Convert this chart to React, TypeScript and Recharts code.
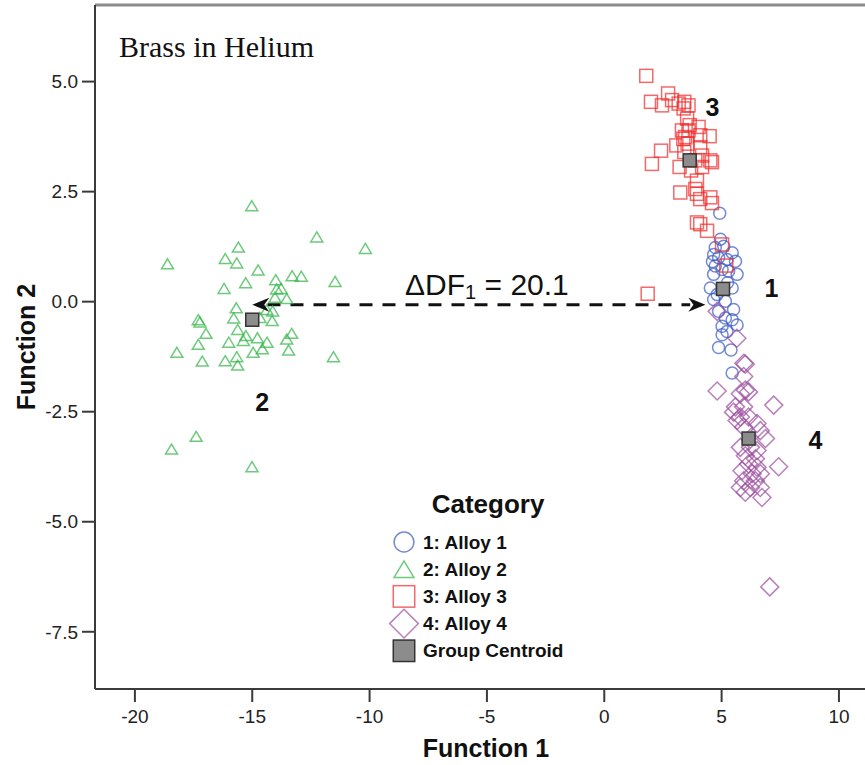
import { ScatterChart, Scatter, XAxis, YAxis, ReferenceLine, ReferenceDot, Legend } from 'recharts';

const FONT = '"Liberation Sans", Arial, sans-serif';

const X_TICKS = [-20, -15, -10, -5, 0, 5, 10];
const Y_TICKS = [-7.5, -5, -2.5, 0, 2.5, 5];
const X_DOMAIN = [-21.7, 11.11];
const Y_DOMAIN = [-8.8, 6.74];

const toPoints = (pairs: number[][]) => pairs.map(([x, y]) => ({ x, y }));

// discriminant scores
const ALLOY_1 = toPoints([
  [4.92, 2.01], [4.73, 1.23], [5.09, 1.26], [5.45, 1.11], [4.66, 1.07], [4.87, 1.0],
  [5.23, 0.96], [5.59, 0.92], [4.73, 0.81], [5.02, 0.73], [5.3, 0.69], [5.66, 0.62],
  [4.66, 0.62], [4.52, 0.31], [5.45, 0.31], [4.81, 0.16], [4.66, 0.05], [5.16, 0.01],
  [5.51, -0.18], [4.87, -0.22], [5.16, -0.37], [5.45, -0.41], [5.02, -0.56], [5.66, -0.53],
  [5.23, -0.68], [5.02, -0.75], [4.87, -1.04], [5.4, -1.1], [5.45, -1.62], [4.95, 1.42],
  [5.25, 0.43], [4.61, 0.91],
]);

const ALLOY_2 = toPoints([
  [-15.02, 2.18], [-12.25, 1.47], [-10.18, 1.21], [-18.61, 0.86], [-15.59, 1.24], [-16.15, 0.98],
  [-15.66, 0.88], [-14.75, 0.72], [-14.0, 0.5], [-13.3, 0.59], [-12.91, 0.58], [-11.47, 0.46],
  [-15.28, 0.43], [-16.2, 0.3], [-13.96, 0.29], [-13.77, 0.3], [-14.03, 0.1], [-13.53, 0.07],
  [-15.68, -0.14], [-14.13, -0.21], [-14.38, -0.18], [-17.3, -0.41], [-17.23, -0.46], [-15.79, -0.37],
  [-14.15, -0.43], [-14.67, -0.36], [-16.97, -0.72], [-15.62, -0.63], [-15.27, -0.77], [-14.78, -0.82],
  [-13.32, -0.72], [-13.53, -0.85], [-17.3, -0.97], [-16.0, -0.92], [-15.38, -0.88], [-14.37, -0.92],
  [-18.21, -1.15], [-14.96, -1.15], [-14.57, -1.07], [-13.45, -1.1], [-11.54, -1.25], [-17.13, -1.35],
  [-16.15, -1.34], [-15.66, -1.25], [-15.62, -1.44], [-17.39, -3.06], [-18.44, -3.35], [-15.01, -3.75],
]);

const ALLOY_3 = toPoints([
  [1.79, 5.13], [2.72, 4.73], [1.99, 4.54], [2.46, 4.46], [2.89, 4.58], [3.17, 4.5],
  [3.41, 4.54], [3.59, 4.46], [3.38, 4.39], [3.53, 4.16], [3.64, 4.01], [4.02, 3.97],
  [3.31, 3.89], [3.59, 3.89], [3.45, 3.74], [4.09, 3.78], [4.49, 3.76], [3.07, 3.55],
  [3.55, 3.59], [4.09, 3.51], [2.42, 3.43], [3.41, 3.4], [4.17, 3.32], [2.03, 3.13],
  [3.21, 3.06], [3.88, 3.21], [4.52, 3.21], [4.59, 3.17], [4.17, 3.06], [3.7, 2.98],
  [3.95, 2.75], [3.24, 2.48], [3.88, 2.56], [3.95, 2.45], [4.09, 2.33], [4.52, 2.37],
  [4.59, 2.24], [4.09, 1.76], [3.95, 1.8], [4.38, 1.61], [5.02, 1.3], [5.2, 0.82],
  [1.85, 0.18], [3.37, 3.7],
]);

const ALLOY_4 = toPoints([
  [6.01, -1.42], [4.81, -2.03], [6.01, -2.01], [5.8, -2.09], [6.15, -2.05], [7.22, -2.35],
  [5.59, -2.39], [5.94, -2.39], [5.51, -2.51], [5.8, -2.62], [6.15, -2.62], [5.66, -2.7],
  [6.51, -2.77], [5.94, -2.85], [6.65, -2.93], [6.87, -3.11], [5.8, -3.31], [6.23, -3.31],
  [6.51, -3.38], [6.01, -3.5], [6.44, -3.57], [7.43, -3.75], [6.15, -3.69], [6.51, -3.76],
  [5.87, -3.84], [6.3, -3.91], [6.65, -3.91], [5.94, -4.07], [6.44, -4.07], [5.8, -4.22],
  [6.23, -4.22], [6.65, -4.22], [6.01, -4.33], [6.72, -4.45], [4.81, -0.22], [5.65, -0.83],
  [5.95, -1.4], [5.94, -1.7], [7.05, -6.48],
]);

const CENTROIDS = toPoints([[5.06, 0.29], [-15.0, -0.41], [3.64, 3.21], [6.15, -3.11]]);

const GROUP_LABELS = [
  { text: '1', x: 7.12, y: 0.3 },
  { text: '2', x: -14.58, y: -2.29 },
  { text: '3', x: 4.61, y: 4.43 },
  { text: '4', x: 9.0, y: -3.15 },
];

// ΔDF1 arrow between centroids 2 and 1
const ARROW_Y = -0.07;
const ARROW_HEADS = [
  { x: -15.0, y: ARROW_Y, dir: -1 },
  { x: 4.31, y: ARROW_Y, dir: 1 },
];
const ARROW_LINE = [-14.35, 3.66];
const DF_LABEL = { x: -5.0, y: 0.39 };

type Kind = 'circle' | 'triangle' | 'square' | 'diamond' | 'centroid';

const SERIES: { name: string; data: { x: number; y: number }[]; color: string; kind: Kind }[] = [
  { name: '1: Alloy 1', data: ALLOY_1, color: '#3B58C2', kind: 'circle' },
  { name: '2: Alloy 2', data: ALLOY_2, color: '#2FB444', kind: 'triangle' },
  { name: '3: Alloy 3', data: ALLOY_3, color: '#EE2A2A', kind: 'square' },
  { name: '4: Alloy 4', data: ALLOY_4, color: '#9A4B9C', kind: 'diamond' },
];

function Marker({ cx, cy, kind, color, s = 1 }: { cx: number; cy: number; kind: Kind; color: string; s?: number }) {
  const common = { fill: 'none', stroke: color, strokeWidth: 1.5, strokeOpacity: 0.7 };
  if (kind === 'circle') return <circle cx={cx} cy={cy} r={6 * s} {...common} />;
  if (kind === 'triangle') {
    const w = 6 * s, h = 5 * s;
    return <path d={`M${cx},${cy - h} L${cx + w},${cy + h} L${cx - w},${cy + h} Z`} {...common} />;
  }
  if (kind === 'square') {
    const h = 6.5 * s;
    return <rect x={cx - h} y={cy - h} width={2 * h} height={2 * h} {...common} />;
  }
  if (kind === 'diamond') {
    const h = 9 * s;
    return <path d={`M${cx},${cy - h} L${cx + h},${cy} L${cx},${cy + h} L${cx - h},${cy} Z`} {...common} />;
  }
  const h = 6.5 * s;
  return <rect x={cx - h} y={cy - h} width={2 * h} height={2 * h} fill="#8c8c8c" stroke="#333" strokeWidth={1.5} />;
}

function ArrowHead({ cx, cy, payload }: any) {
  const d = payload.dir;
  return (
    <path
      d={`M${cx},${cy} L${cx - d * 17},${cy - 7} L${cx - d * 12},${cy} L${cx - d * 17},${cy + 7} Z`}
      fill="#111"
    />
  );
}

const renderLegend = () => {
  const rows = [...SERIES.map((s) => ({ name: s.name, color: s.color, kind: s.kind })), { name: 'Group Centroid', color: '#333', kind: 'centroid' as Kind }];
  return (
    <svg width={240} height={190} style={{ overflow: 'visible' }}>
      <text x={108} y={24} textAnchor="middle" dominantBaseline="central" fontSize={26} fontWeight="bold" fontFamily={FONT} fill="#111">
        Category
      </text>
      {rows.map((r, i) => (
        <g key={r.name}>
          <Marker cx={24} cy={62 + i * 27.2} kind={r.kind} color={r.color} s={r.kind === 'diamond' ? 1.6 : 1.65} />
          <text x={43} y={62 + i * 27.2} dominantBaseline="central" fontSize={19} fontWeight="bold" fontFamily={FONT} fill="#111">
            {r.name}
          </text>
        </g>
      ))}
    </svg>
  );
};

export default function App() {
  const axisStroke = '#3a3a3a';
  return (
    <div style={{ position: 'absolute', left: 0, top: 0, width: 865, height: 765, background: '#fff', fontFamily: FONT }}>
      <div style={{ position: 'absolute', left: 119, top: 32, fontFamily: '"Liberation Serif", "Times New Roman", serif', fontSize: 30, color: '#111', lineHeight: 1, zIndex: 2 }}>
        Brass in Helium
      </div>
      <ScatterChart width={865} height={765} margin={{ top: 5, right: 0, bottom: 0, left: 0 }}>
        <XAxis
          type="number"
          dataKey="x"
          domain={X_DOMAIN}
          ticks={X_TICKS}
          interval={0}
          allowDataOverflow
          height={76}
          stroke={axisStroke}
          strokeWidth={2}
          tickSize={13}
          tickMargin={8}
          tick={{ fontSize: 19, fill: '#222', fontFamily: FONT }}
          label={{
            content: ({ viewBox }: any) => (
              <text x={viewBox.x + 391} y={748} textAnchor="middle" dominantBaseline="central" fontSize={25} fontWeight="bold" fontFamily={FONT} fill="#111">
                Function 1
              </text>
            ),
          }}
        />
        <YAxis
          type="number"
          dataKey="y"
          domain={Y_DOMAIN}
          ticks={Y_TICKS}
          interval={0}
          allowDataOverflow
          width={95}
          stroke={axisStroke}
          strokeWidth={2}
          tickSize={13}
          tickMargin={4}
          tickFormatter={(v: number) => v.toFixed(1)}
          tick={{ fontSize: 19, fill: '#222', fontFamily: FONT }}
          label={{
            content: ({ viewBox }: any) => {
              const cy = viewBox.y + viewBox.height / 2;
              return (
                <text x={26} y={cy} transform={`rotate(-90 26 ${cy})`} textAnchor="middle" dominantBaseline="central" fontSize={25} fontWeight="bold" fontFamily={FONT} fill="#111">
                  Function 2
                </text>
              );
            },
          }}
        />
        <ReferenceLine y={Y_DOMAIN[1]} stroke="#8c8c8c" strokeWidth={3} />
        <Legend layout="vertical" align="center" verticalAlign="middle" content={renderLegend} wrapperStyle={{ left: 380, top: 480, width: 240, height: 190 }} />
        {SERIES.map((s) => (
          <Scatter
            key={s.name}
            name={s.name}
            data={s.data}
            isAnimationActive={false}
            shape={(p: any) => <Marker cx={p.cx} cy={p.cy} kind={s.kind} color={s.color} />}
          />
        ))}
        <ReferenceLine
          segment={[{ x: ARROW_LINE[0], y: ARROW_Y }, { x: ARROW_LINE[1], y: ARROW_Y }]}
          stroke="#111"
          strokeWidth={3}
          strokeDasharray="13 10"
        />
        <Scatter name="arrow" data={ARROW_HEADS} isAnimationActive={false} shape={(p: any) => <ArrowHead {...p} />} />
        <Scatter
          name="Group Centroid"
          data={CENTROIDS}
          isAnimationActive={false}
          shape={(p: any) => <Marker cx={p.cx} cy={p.cy} kind="centroid" color="#333" />}
        />
        {GROUP_LABELS.map((g) => (
          <ReferenceDot
            key={g.text}
            x={g.x}
            y={g.y}
            r={0}
            shape={(p: any) => (
              <text x={p.cx} y={p.cy} textAnchor="middle" dominantBaseline="central" fontSize={25} fontWeight="bold" fontFamily={FONT} fill="#111">
                {g.text}
              </text>
            )}
          />
        ))}
        <ReferenceDot
          x={DF_LABEL.x}
          y={DF_LABEL.y}
          r={0}
          shape={(p: any) => (
            <text x={p.cx} y={p.cy} textAnchor="middle" dominantBaseline="central" fontSize={30} fontFamily={FONT} fill="#111">
              ΔDF<tspan fontSize={20} dy={8}>1</tspan>
              <tspan dy={-8}> = 20.1</tspan>
            </text>
          )}
        />
      </ScatterChart>
    </div>
  );
}
